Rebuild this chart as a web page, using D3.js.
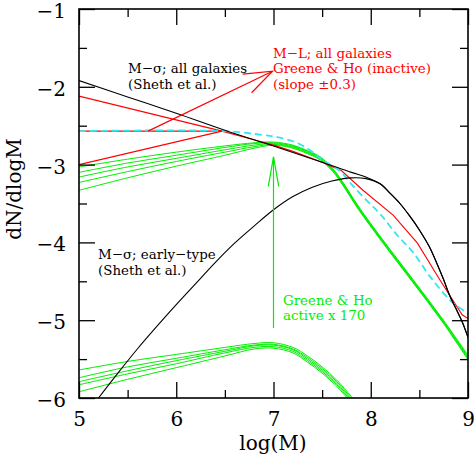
<!DOCTYPE html>
<html><head><meta charset="utf-8">
<script src="https://cdn.jsdelivr.net/npm/d3@7"></script>
<style>body{margin:0;background:#fff}svg{display:block}</style>
</head><body>
<svg id="c" width="474" height="460"></svg>
<script>
// ---- data ----
const xTicks = [5, 6, 7, 8, 9];
const xMinor = [5.5, 6.5, 7.5, 8.5];
const yTicks = [-1, -2, -3, -4, -5, -6];
const yMinor = [-1.5, -2.5, -3.5, -4.5, -5.5];

// M-sigma, all galaxies (Sheth et al.)
const sigmaAll = [[5.0,-1.92],[5.5,-2.13],[6.0,-2.34],[6.55,-2.58],[7.0,-2.76],[7.5,-2.97],[7.8,-3.10],[7.95,-3.16],[8.1,-3.25],
  [8.2,-3.37],[8.3,-3.50],[8.4,-3.66],[8.5,-3.84],[8.6,-4.05],[8.68,-4.27],[8.75,-4.48],[8.81,-4.68],[8.88,-4.86],[8.94,-5.02],[9.0,-5.22]];
// M-sigma, early-type (Sheth et al.)
const sigmaEarly = [[5.2,-6.0],[5.4,-5.68],[5.6,-5.37],[5.8,-5.08],[6.0,-4.80],[6.2,-4.53],[6.4,-4.26],[6.6,-4.01],[6.8,-3.79],[7.0,-3.58],
  [7.2,-3.41],[7.4,-3.29],[7.6,-3.21],[7.8,-3.17],[7.95,-3.18],[8.1,-3.25],
  [8.2,-3.37],[8.3,-3.50],[8.4,-3.66],[8.5,-3.84],[8.6,-4.05],[8.68,-4.27],[8.75,-4.48],[8.81,-4.68],[8.88,-4.86],[8.94,-5.02],[9.0,-5.22]];
// M-L, all galaxies, Greene & Ho inactive (slope +-0.3)
const mlHigh = [[5.0,-2.12],[6.47,-2.57]];
const mlMid  = [[5.0,-2.57],[6.47,-2.57]];
const mlLow  = [[5.0,-3.00],[6.47,-2.57]];
const mlTail = [[6.47,-2.57],[6.8,-2.68],[7.0,-2.75],[7.2,-2.83],[7.5,-2.97],[7.7,-3.08],[7.92,-3.33],[8.23,-3.65],[8.48,-4.01],[8.71,-4.48],[8.94,-4.93],[9.0,-4.98]];
// cyan dashed
const cyanLine = [[5.0,-2.57],[6.5,-2.57],[6.89,-2.62],[7.05,-2.65],[7.24,-2.72],[7.37,-2.81],[7.48,-2.92],[7.68,-3.08],[7.8,-3.25],[7.95,-3.45],
  [8.1,-3.64],[8.28,-3.92],[8.43,-4.12],[8.61,-4.44],[8.83,-4.76],[9.0,-4.91]];
// Greene & Ho active x 170 (upper bundle, 5 curves)
const greenX = [5.0,5.5,6.0,6.5,6.8,7.0,7.2,7.35,7.48,7.61,7.71,7.87,8.12,8.43,8.73,9.0];
const greenUp1 = [-3.03,-2.93,-2.84,-2.76,-2.72,-2.71,-2.75,-2.82,-2.90,-3.05,-3.22,-3.53,-3.96,-4.47,-4.97,-5.45];
const greenUp2 = [-3.10,-2.98,-2.88,-2.78,-2.73,-2.72,-2.76,-2.83,-2.91,-3.06,-3.23,-3.54,-3.97,-4.48,-4.98,-5.465];
const greenUp3 = [-3.16,-3.03,-2.92,-2.81,-2.75,-2.73,-2.77,-2.84,-2.92,-3.07,-3.24,-3.55,-3.98,-4.49,-4.99,-5.48];
const greenUp4 = [-3.23,-3.09,-2.96,-2.84,-2.77,-2.74,-2.78,-2.85,-2.93,-3.08,-3.25,-3.56,-3.99,-4.50,-5.00,-5.495];
const greenUp5 = [-3.33,-3.17,-3.02,-2.88,-2.79,-2.75,-2.79,-2.86,-2.94,-3.09,-3.26,-3.57,-4.00,-4.51,-5.01,-5.51];
// lower bundle
const greenLoX = [5.0,5.5,6.0,6.5,6.8,7.0,7.2,7.35,7.5,7.65,7.8,7.9];
const greenLo1 = [-5.64,-5.53,-5.44,-5.35,-5.30,-5.29,-5.35,-5.46,-5.60,-5.77,-5.98,-6.12];
const greenLo2 = [-5.74,-5.60,-5.49,-5.38,-5.32,-5.31,-5.37,-5.48,-5.62,-5.79,-6.00,-6.14];
const greenLo3 = [-5.79,-5.65,-5.52,-5.40,-5.33,-5.32,-5.38,-5.50,-5.64,-5.81,-6.02,-6.16];
const greenLo4 = [-5.83,-5.69,-5.56,-5.42,-5.35,-5.34,-5.40,-5.52,-5.66,-5.83,-6.04,-6.18];
const greenLo5 = [-5.92,-5.76,-5.61,-5.46,-5.37,-5.36,-5.42,-5.54,-5.68,-5.85,-6.06,-6.20];
// arrows [x0,y0,x1,y1]
const redArrow = [5.71,-2.57,6.99,-1.80];
const greenArrow = [7.0,-5.10,7.0,-2.90];

// ---- drawing ----
const RED = "#ff0000", GREEN = "#00ee00", CYAN = "#33e6f0";
const FONT = "DejaVu Serif";
const svg = d3.select("#c");
const x = d3.scaleLinear().domain([5, 9]).range([79, 468]);
const y = d3.scaleLinear().domain([-6, -1]).range([398, 9]);

svg.append("defs").append("clipPath").attr("id","clip")
  .append("rect").attr("x",79).attr("y",9).attr("width",389).attr("height",389);
const plot = svg.append("g").attr("clip-path","url(#clip)");

const line = d3.line().x(d=>x(d[0])).y(d=>y(d[1]));
const smooth = d3.line().x(d=>x(d[0])).y(d=>y(d[1])).curve(d3.curveCatmullRom.alpha(0.5));
const zip = (xs, ys) => xs.map((v,i)=>[v, ys[i]]);

function path(data, gen, color, w, dash){
  const p = plot.append("path").datum(data).attr("d", gen).attr("fill","none")
    .attr("stroke", color).attr("stroke-width", w);
  if (dash) p.attr("stroke-dasharray", dash);
  return p;
}

[greenUp1,greenUp2,greenUp3,greenUp4,greenUp5].forEach(s => path(zip(greenX,s), smooth, GREEN, 1));
[greenLo1,greenLo2,greenLo3,greenLo4,greenLo5].forEach(s => path(zip(greenLoX,s), smooth, GREEN, 1));
[mlHigh, mlMid, mlLow, mlTail].forEach(s => path(s, line, RED, 1.1));
path(cyanLine, smooth, CYAN, 1.8, "7,4");
path(sigmaEarly, smooth, "#000", 1.1);
path(sigmaAll, smooth, "#000", 1.1);

function arrow(a, color, angDeg, len){
  const x0=x(a[0]), y0=y(a[1]), x1=x(a[2]), y1=y(a[3]);
  const th = Math.atan2(y0-y1, x0-x1);
  const r = angDeg*Math.PI/180;
  const b1=[x1+len*Math.cos(th+r), y1+len*Math.sin(th+r)];
  const b2=[x1+len*Math.cos(th-r), y1+len*Math.sin(th-r)];
  const g = svg.append("g").attr("stroke",color).attr("stroke-width",1.2).attr("fill","none");
  g.append("line").attr("x1",x0).attr("y1",y0).attr("x2",x1).attr("y2",y1);
  g.append("path").attr("d",`M${b1[0]},${b1[1]}L${x1},${y1}L${b2[0]},${b2[1]}`);
}
arrow(redArrow, RED, 20, 30);
arrow(greenArrow, GREEN, 10, 30);

// frame
svg.append("rect").attr("x",79).attr("y",9).attr("width",389).attr("height",389)
  .attr("fill","none").attr("stroke","#000").attr("stroke-width",1.6);

// axes (ticks inward on all four sides)
function ax(gen, tx, ty, vals, size, labels){
  const a = gen.tickValues(vals).tickSizeInner(-size).tickSizeOuter(0)
    .tickFormat(labels ? labels : () => "");
  const g = svg.append("g").attr("transform",`translate(${tx},${ty})`).call(a);
  g.select(".domain").remove();
  g.selectAll(".tick line").attr("stroke","#000").attr("stroke-width",1.3);
  return g;
}
const fx = d => String(d);
const fy = d => "\u2212" + Math.abs(d);
const gb = ax(d3.axisBottom(x), 0, 398, xTicks, 16, fx);
ax(d3.axisBottom(x), 0, 398, xMinor, 8);
ax(d3.axisTop(x), 0, 9, xTicks, 16);
ax(d3.axisTop(x), 0, 9, xMinor, 8);
const gl = ax(d3.axisLeft(y), 79, 0, yTicks, 16, fy);
ax(d3.axisLeft(y), 79, 0, yMinor, 8);
ax(d3.axisRight(y), 468, 0, yTicks, 16);
ax(d3.axisRight(y), 468, 0, yMinor, 8);

gb.selectAll(".tick text").attr("y", 27.5).attr("dy", null)
  .attr("font-family", FONT).attr("font-size", 20).attr("fill","#000");
gl.selectAll(".tick text").attr("x", -13).attr("dy", 8.5)
  .attr("font-family", FONT).attr("font-size", 20).attr("fill","#000").attr("text-anchor","end");

// axis titles
svg.append("text").attr("x", 273).attr("y", 450).attr("text-anchor","middle")
  .attr("font-family", FONT).attr("font-size", 20).text("log(M)");
svg.append("text").attr("transform","translate(21,189) rotate(-90)").attr("text-anchor","middle")
  .attr("font-family", FONT).attr("font-size", 20).text("dN/dlogM");

// annotations
function label(lines, x0, ys, color){
  lines.forEach((t,i) => svg.append("text").attr("x", x0).attr("y", ys[i])
    .attr("font-family", FONT).attr("font-size", 13.4).attr("fill", color).text(t));
}
label(["M\u2212\u03C3; all galaxies", "(Sheth et al.)"], 128, [73, 88.5], "#000");
label(["M\u2212L; all galaxies", "Greene & Ho (inactive)", "(slope \u00B10.3)"], 273, [57.5, 73, 88.5], RED);
label(["M\u2212\u03C3; early\u2212type", "(Sheth et al.)"], 98, [259, 274.5], "#000");
label(["Greene & Ho", "active x 170"], 283, [304.5, 320], GREEN);
</script>
</body></html>
